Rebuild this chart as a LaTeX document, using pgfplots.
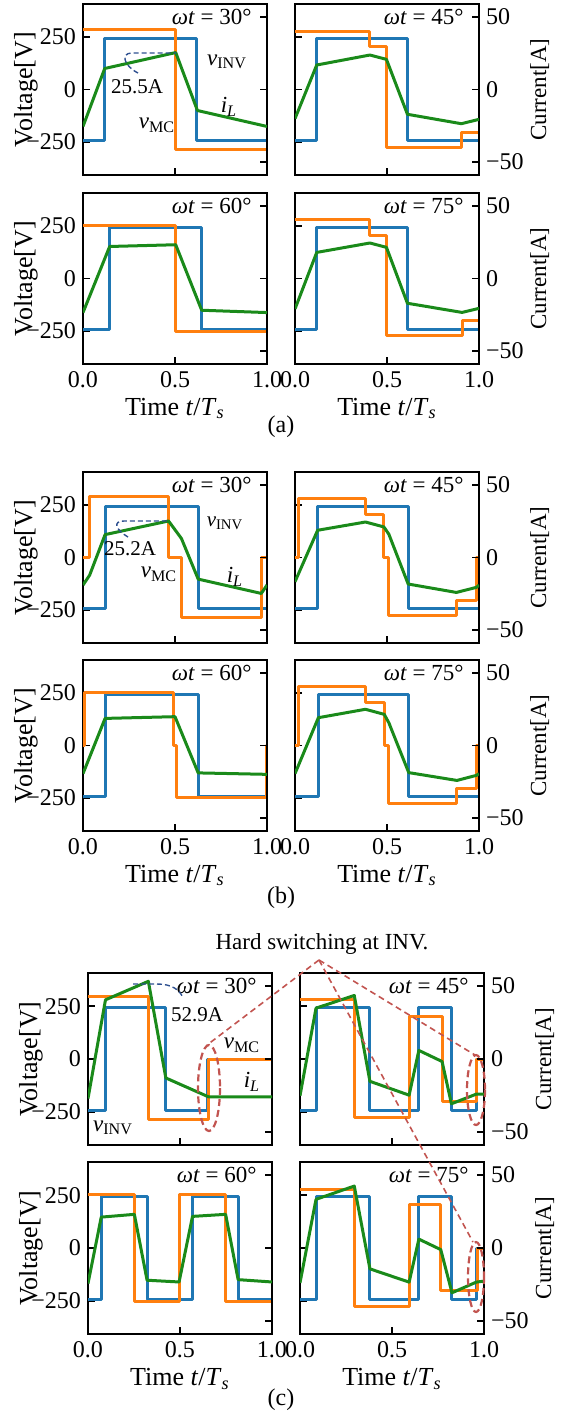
\documentclass[border=0pt]{standalone}
\usepackage{fontspec}
\setmainfont{Liberation Serif}
\usepackage{pgfplots}
\pgfplotsset{compat=1.18}
\definecolor{cB}{HTML}{1F77B4}
\definecolor{cO}{HTML}{FF7F0E}
\definecolor{cG}{HTML}{1A8A1A}
\definecolor{cR}{HTML}{C25450}
\definecolor{cD}{HTML}{2E5090}
\newcommand\fs[1]{\fontsize{#1}{#1}\selectfont}
\newcommand\om[1]{\textit{ωt} = #1°}
\tikzset{wt/.style={anchor=east, font=\fs{11.5}}, an/.style={inner sep=0pt}}
\pgfplotsset{
  base/.style={scale only axis, width=92pt, height=85.5pt, xmin=0, xmax=1,
    anchor=north west, major tick length=3.5pt,
    major tick style={black, line width=0.9pt},
    axis line style={black, line width=1pt},
    tick label style={font=\fs{12}}},
  vax/.style={base, ymin=-407, ymax=407, ytick={-250,0,250},
    yticklabels={−250,0,250}, xtick={0,0.5,1}, xticklabels={0.0,0.5,1.0},
    xtick pos=bottom, ytick pos=left, tick align=inside},
  cax/.style={base, ymin=-59, ymax=59, ytick={-50,0,50}, yticklabels={−50,0,50},
    axis x line=none, axis y line*=right, tick align=inside},
  L/.style={ylabel={Voltage[V]}, every axis y label/.style={at={(axis description cs:-0.31,0.5)}, rotate=90, anchor=center, font=\fs{13}}},
  R/.style={ylabel={Current[A]}, every axis y label/.style={at={(axis description cs:1.33,0.5)}, rotate=90, anchor=center, font=\fs{11.5}}},
  B/.style={xlabel={Time \textit{t}/\textit{T}\textsubscript{\textit{s}}}, every axis x label/.style={at={(axis description cs:0.5,-0.26)}, anchor=center, font=\fs{13}}},
  T/.style={xticklabels={}},
  nolab/.style={yticklabels={}},
  vb/.style={cB, line width=1.5pt, line join=round},
  vo/.style={cO, line width=1.5pt, line join=round},
  ig/.style={cG, line width=1.5pt, line join=round},
}
\begin{document}
\begin{tikzpicture}
\path[use as bounding box] (0,0) rectangle (282pt,-707.5pt);
% ================= (a) =================
\begin{axis}[vax, L, T, at={(41.5pt,-2pt)}]
\addplot[vb] coordinates {(0,-243)(0.118,-243)(0.118,243)(0.618,243)(0.618,-243)(1,-243)};
\addplot[vo] coordinates {(0,285)(0.504,285)(0.504,-285)(1,-285)};
\node[wt] at (rel axis cs:0.955,0.925) {\om{30}};
\end{axis}
\begin{axis}[cax, nolab, at={(41.5pt,-2pt)}]
\addplot[ig] coordinates {(0,-25.5)(0.118,14.5)(0.504,25.5)(0.622,-14.5)(1,-25.5)};
\end{axis}
\begin{axis}[vax, nolab, T, at={(147.5pt,-2pt)}]
\addplot[vb] coordinates {(0,-243)(0.118,-243)(0.118,243)(0.611,243)(0.611,-243)(1,-243)};
\addplot[vo] coordinates {(0,278)(0.407,278)(0.407,203)(0.497,203)(0.497,-277)(0.904,-277)(0.904,-204)(1,-204)};
\node[wt] at (rel axis cs:0.955,0.925) {\om{45}};
\end{axis}
\begin{axis}[cax, R, at={(147.5pt,-2pt)}]
\addplot[ig] coordinates {(0,-20.1)(0.118,16.9)(0.407,23.8)(0.497,20.8)(0.611,-17.1)(0.904,-23.6)(1,-20.6)};
\end{axis}
\begin{axis}[vax, L, B, at={(41.5pt,-96.5pt)}]
\addplot[vb] coordinates {(0,-243)(0.145,-243)(0.145,243)(0.645,243)(0.645,-243)(1,-243)};
\addplot[vo] coordinates {(0,252)(0.504,252)(0.504,-252)(1,-252)};
\node[wt] at (rel axis cs:0.955,0.925) {\om{60}};
\end{axis}
\begin{axis}[cax, nolab, at={(41.5pt,-96.5pt)}]
\addplot[ig] coordinates {(0,-23.5)(0.145,22.1)(0.504,23.3)(0.645,-21.9)(1,-23.5)};
\end{axis}
\begin{axis}[vax, nolab, B, at={(147.5pt,-96.5pt)}]
\addplot[vb] coordinates {(0,-243)(0.118,-243)(0.118,243)(0.611,243)(0.611,-243)(1,-243)};
\addplot[vo] coordinates {(0,280)(0.407,280)(0.407,206)(0.497,206)(0.497,-272)(0.908,-272)(0.908,-201)(1,-201)};
\node[wt] at (rel axis cs:0.955,0.925) {\om{75}};
\end{axis}
\begin{axis}[cax, R, at={(147.5pt,-96.5pt)}]
\addplot[ig] coordinates {(0,-21.0)(0.118,18.0)(0.407,24.5)(0.497,21.5)(0.611,-17.1)(0.908,-23.4)(1,-20.6)};
\end{axis}
% ================= (b) =================
\begin{axis}[vax, L, T, at={(41.5pt,-236pt)}]
\addplot[vb] coordinates {(0,-243)(0.12,-243)(0.12,243)(0.626,243)(0.626,-243)(1,-243)};
\addplot[vo] coordinates {(0,0)(0.036,0)(0.036,290)(0.465,290)(0.465,0)(0.535,0)(0.535,-286)(0.969,-286)(0.969,0)(1,0)};
\node[wt] at (rel axis cs:0.955,0.925) {\om{30}};
\end{axis}
\begin{axis}[cax, nolab, at={(41.5pt,-236pt)}]
\addplot[ig] coordinates {(0,-19.0)(0.036,-12.2)(0.12,15.8)(0.465,25.2)(0.535,13.1)(0.626,-14.9)(0.969,-24.8)(1,-19.0)};
\end{axis}
\begin{axis}[vax, nolab, T, at={(147.5pt,-236pt)}]
\addplot[vb] coordinates {(0,-243)(0.123,-243)(0.123,243)(0.615,243)(0.615,-243)(1,-243)};
\addplot[vo] coordinates {(0,0)(0.018,0)(0.018,281)(0.383,281)(0.383,206)(0.483,206)(0.483,0)(0.51,0)(0.51,-278)(0.877,-278)(0.877,-206)(0.986,-206)(0.986,0)(1,0)};
\node[wt] at (rel axis cs:0.955,0.925) {\om{45}};
\end{axis}
\begin{axis}[cax, R, at={(147.5pt,-236pt)}]
\addplot[ig] coordinates {(0,-16.7)(0.123,18.8)(0.383,24.5)(0.483,21.1)(0.51,16.1)(0.615,-18.3)(0.877,-24.1)(0.986,-20.6)(1,-19)};
\end{axis}
\begin{axis}[vax, L, B, at={(41.5pt,-330pt)}]
\addplot[vb] coordinates {(0,-243)(0.12,-243)(0.12,243)(0.626,243)(0.626,-243)(1,-243)};
\addplot[vo] coordinates {(0,0)(0.008,0)(0.008,250)(0.493,250)(0.493,0)(0.507,0)(0.507,-246)(0.995,-246)(0.995,0)(1,0)};
\node[wt] at (rel axis cs:0.955,0.925) {\om{60}};
\end{axis}
\begin{axis}[cax, nolab, at={(41.5pt,-330pt)}]
\addplot[ig] coordinates {(0,-19.4)(0.12,18.7)(0.5,19.9)(0.626,-18.9)(1,-19.9)};
\end{axis}
\begin{axis}[vax, nolab, B, at={(147.5pt,-330pt)}]
\addplot[vb] coordinates {(0,-243)(0.127,-243)(0.127,243)(0.618,243)(0.618,-243)(1,-243)};
\addplot[vo] coordinates {(0,0)(0.018,0)(0.018,281)(0.383,281)(0.383,205)(0.485,205)(0.485,0)(0.51,0)(0.51,-278)(0.877,-278)(0.877,-204)(0.986,-204)(0.986,0)(1,0)};
\node[wt] at (rel axis cs:0.955,0.925) {\om{75}};
\end{axis}
\begin{axis}[cax, R, at={(147.5pt,-330pt)}]
\addplot[ig] coordinates {(0,-19.4)(0.127,19.2)(0.383,25.0)(0.485,21.5)(0.51,15.7)(0.618,-18.7)(0.88,-24.1)(0.986,-20.6)(1,-19.4)};
\end{axis}
% ================= (c) =================
\begin{axis}[vax, L, T, height=86pt, at={(44pt,-486.5pt)}]
\addplot[vb] coordinates {(0,-243)(0.095,-243)(0.095,243)(0.423,243)(0.423,-243)(0.649,-243)(0.649,0)(1,0)};
\addplot[vo] coordinates {(0,294)(0.328,294)(0.328,-286)(0.654,-286)(0.654,0)(1,0)};
\node[wt] at (rel axis cs:0.955,0.925) {\om{30}};
\end{axis}
\begin{axis}[cax, nolab, height=86pt, at={(44pt,-486.5pt)}]
\addplot[ig] coordinates {(0,-27.1)(0.095,40.6)(0.328,53.3)(0.423,-13.0)(0.654,-25.9)(1,-25.9)};
\end{axis}
\begin{axis}[vax, nolab, T, height=86pt, at={(150pt,-486.5pt)}]
\addplot[vb] coordinates {(0,-243)(0.087,-243)(0.087,243)(0.38,243)(0.38,-243)(0.646,-243)(0.646,243)(0.823,243)(0.823,-243)(0.958,-243)(0.958,0)(1,0)};
\addplot[vo] coordinates {(0,282)(0.295,282)(0.295,-278)(0.593,-278)(0.593,203)(0.772,203)(0.772,-202)(0.958,-202)(0.958,0)(1,0)};
\node[wt] at (rel axis cs:0.955,0.925) {\om{45}};
\end{axis}
\begin{axis}[cax, R, height=86pt, at={(150pt,-486.5pt)}]
\addplot[ig] coordinates {(0,-25.2)(0.087,34.9)(0.295,43.6)(0.38,-15.3)(0.593,-24.8)(0.646,5.9)(0.772,-1.7)(0.823,-30.7)(0.958,-24.1)(1,-24.1)};
\end{axis}
\begin{axis}[vax, L, B, height=86pt, at={(44pt,-581pt)}]
\addplot[vb] coordinates {(0,-243)(0.072,-243)(0.072,243)(0.321,243)(0.321,-243)(0.568,-243)(0.568,243)(0.816,243)(0.816,-243)(1,-243)};
\addplot[vo] coordinates {(0,251)(0.252,251)(0.252,-251)(0.495,-251)(0.495,251)(0.748,251)(0.748,-251)(1,-251)};
\node[wt] at (rel axis cs:0.955,0.925) {\om{60}};
\end{axis}
\begin{axis}[cax, nolab, height=86pt, at={(44pt,-581pt)}]
\addplot[ig] coordinates {(0,-24.4)(0.072,21.2)(0.252,23.1)(0.321,-22.1)(0.495,-23.3)(0.568,21.7)(0.748,23.1)(0.816,-21.7)(1,-23.3)};
\end{axis}
\begin{axis}[vax, nolab, B, height=86pt, at={(150pt,-581pt)}]
\addplot[vb] coordinates {(0,-243)(0.087,-243)(0.087,243)(0.38,243)(0.38,-243)(0.646,-243)(0.646,243)(0.826,243)(0.826,-243)(0.958,-243)(0.958,0)(1,0)};
\addplot[vo] coordinates {(0,276)(0.295,276)(0.295,-276)(0.593,-276)(0.593,205)(0.765,205)(0.765,-202)(0.962,-202)(0.962,0)(1,0)};
\node[wt] at (rel axis cs:0.955,0.925) {\om{75}};
\end{axis}
\begin{axis}[cax, R, height=86pt, at={(150pt,-581pt)}]
\addplot[ig] coordinates {(0,-23.9)(0.087,33.4)(0.295,42.5)(0.38,-14.3)(0.593,-23.4)(0.646,6.1)(0.765,-1.1)(0.826,-30.7)(0.958,-23.4)(1,-22.7)};
\end{axis}
% ================= annotations =================
\begin{scope}[x=0.5pt, y=-0.5pt]
\node[an, font=\fs{11.5}] at (227,62) {\textit{v}\textsubscript{INV}};
\node[an, font=\fs{10.5}] at (137,87) {25.5A};
\node[an, font=\fs{11.5}] at (229,107) {\textit{i}\textsubscript{\textit{L}}};
\node[an, font=\fs{11.5}] at (157,125) {\textit{v}\textsubscript{MC}};
\draw[cD, line width=0.7pt, dash pattern=on 2.5pt off 1.5pt] (138,73) .. controls (124,66) and (120,53) .. (132,53) -- (176,53);
\node[font=\fs{12}] at (281,427) {(a)};
\node[an, font=\fs{10.5}] at (225,523) {\textit{v}\textsubscript{INV}};
\node[an, font=\fs{10.5}] at (130,549) {25.2A};
\node[an, font=\fs{11.5}] at (159,574) {\textit{v}\textsubscript{MC}};
\node[an, font=\fs{11.5}] at (235,577) {\textit{i}\textsubscript{\textit{L}}};
\draw[cD, line width=0.7pt, dash pattern=on 2.5pt off 1.5pt] (128,537) .. controls (116,530) and (112,521) .. (124,521) -- (168,521);
\node[font=\fs{12}] at (281,898) {(b)};
\node[an, font=\fs{10.5}] at (197,1015) {52.9A};
\node[an, font=\fs{11.5}] at (242,1045) {\textit{v}\textsubscript{MC}};
\node[an, font=\fs{11.5}] at (252,1082) {\textit{i}\textsubscript{\textit{L}}};
\node[an, font=\fs{11.5}] at (113,1128) {\textit{v}\textsubscript{INV}};
\draw[cD, line width=0.7pt, dash pattern=on 2.5pt off 1.5pt] (133,984) -- (157,984) .. controls (172,984) and (180,990) .. (183,998);
\node[font=\fs{11.5}] at (322,944) {Hard switching at INV.};
\draw[cR, line width=0.8pt, dash pattern=on 3pt off 2pt] (319,960) -- (207,1045);
\draw[cR, line width=0.8pt, dash pattern=on 3pt off 2pt] (319,960) -- (475,1055);
\draw[cR, line width=0.8pt, dash pattern=on 3pt off 2pt] (319,960) -- (473,1242);
\draw[cR, line width=1.1pt, dash pattern=on 3.5pt off 2pt] (209,1088) ellipse [x radius=11, y radius=43];
\draw[cR, line width=1.1pt, dash pattern=on 3.5pt off 2pt] (476,1090) ellipse [x radius=9, y radius=35];
\draw[cR, line width=1.1pt, dash pattern=on 3.5pt off 2pt] (476,1277) ellipse [x radius=8, y radius=35];
\node[font=\fs{12}] at (281,1400) {(c)};
\end{scope}
\end{tikzpicture}
\end{document}
